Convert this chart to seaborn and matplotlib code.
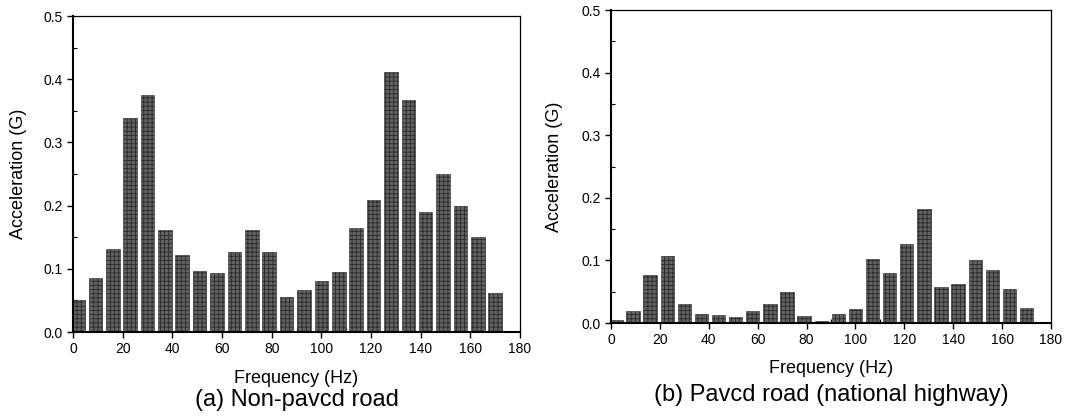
import matplotlib
matplotlib.use("Agg")
import matplotlib.pyplot as plt
import pandas as pd
import seaborn as sns
from matplotlib.ticker import MultipleLocator

# ---------- data ----------
freqs = [2, 9, 16, 23, 30, 37, 44, 51, 58, 65, 72, 79, 86, 93, 100,
         107, 114, 121, 128, 135, 142, 149, 156, 163, 170]
non_paved = [0.051, 0.086, 0.131, 0.339, 0.375, 0.161, 0.122, 0.096, 0.094,
             0.127, 0.161, 0.126, 0.055, 0.067, 0.081, 0.095, 0.165, 0.209,
             0.412, 0.367, 0.190, 0.250, 0.200, 0.151, 0.061]
paved = [0.005, 0.020, 0.076, 0.107, 0.031, 0.015, 0.013, 0.010, 0.020,
         0.030, 0.050, 0.012, 0.003, 0.015, 0.023, 0.102, 0.080, 0.126,
         0.182, 0.057, 0.063, 0.100, 0.084, 0.054, 0.024]
captions = ["(a) Non-pavcd road", "(b) Pavcd road (national highway)"]

sns.set_style("ticks", {"axes.edgecolor": "black", "text.color": "black",
                        "axes.labelcolor": "black", "xtick.color": "black",
                        "ytick.color": "black"})
plt.rcParams["font.family"] = ["Liberation Sans", "DejaVu Sans"]
plt.rcParams["hatch.linewidth"] = 0.6

fig = plt.figure(figsize=(10.67, 4.19), dpi=100)
ax_a = fig.add_axes([0.0684, 0.2076, 0.419, 0.754])
ax_b = fig.add_axes([0.5726, 0.229, 0.4124, 0.747])

panels = [
    (ax_a, non_paved, captions[0], -0.146, -0.215, -0.103),
    (ax_b, paved, captions[1], -0.144, -0.23, -0.109),
]

for ax, vals, cap, fy, cy, ly in panels:
    df = pd.DataFrame({"freq": freqs, "acc": vals})
    sns.barplot(data=df, x="freq", y="acc", native_scale=True, width=0.78,
                color="#626262", saturation=1, edgecolor="#2a2a2a",
                linewidth=0.4, hatch="++++", errorbar=None, ax=ax)
    ax.set_xlim(0, 180)
    ax.set_ylim(0, 0.5)
    ax.xaxis.set_major_locator(MultipleLocator(20))
    ax.xaxis.set_minor_locator(MultipleLocator(10))
    ax.yaxis.set_major_locator(MultipleLocator(0.1))
    ax.yaxis.set_minor_locator(MultipleLocator(0.05))
    ax.yaxis.set_major_formatter(plt.FormatStrFormatter("%.1f"))
    ax.tick_params(which="major", direction="out", length=4, width=1,
                   labelsize=10, colors="black")
    ax.tick_params(which="minor", direction="in", length=3, width=0.8)
    for side in ["left", "bottom"]:
        ax.spines[side].set_linewidth(1.5)
    for side in ["top", "right"]:
        ax.spines[side].set_linewidth(0.9)
    ax.set_xlabel("")
    ax.set_ylabel("Acceleration (G)", fontsize=13, color="black")
    ax.yaxis.set_label_coords(ly, 0.5)
    ax.text(0.5, fy, "Frequency (Hz)", transform=ax.transAxes,
            ha="center", va="center", fontsize=13, color="black")
    ax.text(0.5, cy, cap, transform=ax.transAxes,
            ha="center", va="center", fontsize=17, color="black")

fig.savefig("out.png", dpi=100, facecolor="white")
